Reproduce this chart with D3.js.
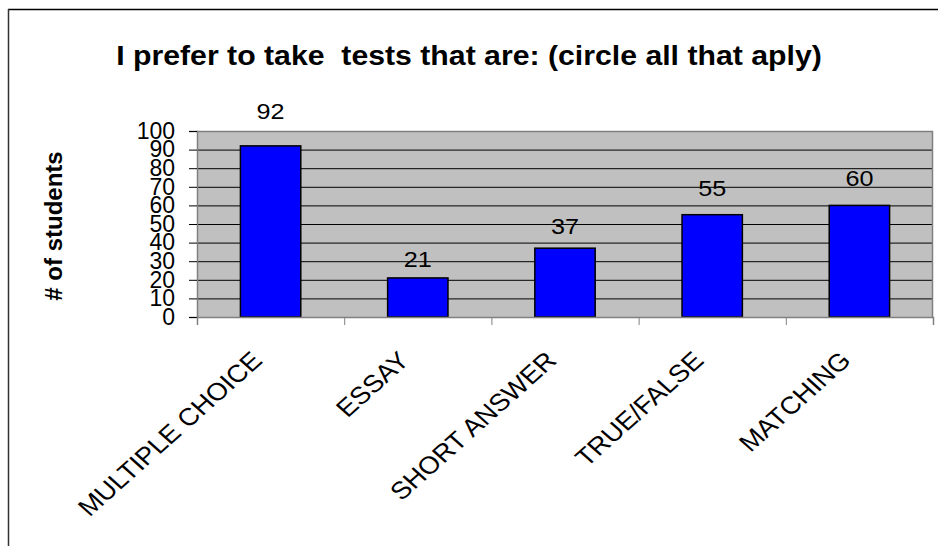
<!DOCTYPE html>
<html>
<head>
<meta charset="utf-8">
<script src="https://cdn.jsdelivr.net/npm/d3@7"></script>
<style>
  html, body { margin: 0; padding: 0; background: #fff; }
  svg { display: block; }
  text { font-family: "Liberation Sans", Arial, sans-serif; fill: #000; }
</style>
</head>
<body>
<script>
// Survey answers: which test formats students prefer
const categories = ["MULTIPLE CHOICE", "ESSAY", "SHORT ANSWER", "TRUE/FALSE", "MATCHING"];
const students = [92, 21, 37, 55, 60];
const yTicks = [0, 10, 20, 30, 40, 50, 60, 70, 80, 90, 100];
const gridTicks = [10, 20, 30, 40, 50, 60, 70, 80, 90];
const titleText = "I prefer to take  tests that are: (circle all that aply)";
const yTitleText = "# of students";

const W = 938, H = 546;
const margin = { left: 197, top: 131, right: 5, bottom: 229 };
const w = W - margin.left - margin.right;
const h = H - margin.top - margin.bottom;
const sx = 1.12; // text is drawn slightly widened

const svg = d3.select("body").append("svg")
  .attr("width", W).attr("height", H);

svg.append("rect").attr("width", W).attr("height", H).attr("fill", "#fff");

// outer frame (top and left edges)
svg.append("line").attr("x1", 8).attr("x2", W).attr("y1", 9.5).attr("y2", 9.5)
  .attr("stroke", "#000").attr("stroke-width", 1.5);
svg.append("line").attr("x1", 8.5).attr("x2", 8.5).attr("y1", 9).attr("y2", H)
  .attr("stroke", "#333").attr("stroke-width", 1.5);

// title
svg.append("g").attr("transform", `translate(469,65) scale(${sx},1)`)
  .append("text")
  .attr("text-anchor", "middle")
  .attr("font-size", 27).attr("font-weight", "bold")
  .style("white-space", "pre")
  .text(titleText);

// y axis title
svg.append("text")
  .attr("transform", "translate(62,226) rotate(-90)")
  .attr("text-anchor", "middle")
  .attr("font-size", 24).attr("font-weight", "bold")
  .text(yTitleText);

const g = svg.append("g").attr("transform", `translate(${margin.left},${margin.top})`);

const x = d3.scaleBand().domain(categories).range([0, w])
  .paddingInner(0.59).paddingOuter(0.295);
const xEdge = d3.scaleLinear().domain([0, categories.length]).range([0, w]);
const y = d3.scaleLinear().domain([0, 100]).range([h, 0]);
const labelY = d3.scaleLinear().domain([0, 100]).range([y(0) - 6, y(100) - 29]);

// plot background
g.append("rect").attr("width", w).attr("height", h).attr("fill", "#c0c0c0");

// gridlines
g.append("g")
  .call(d3.axisLeft(y).tickValues(gridTicks).tickSize(-w).tickFormat(""))
  .call(s => s.select(".domain").remove())
  .call(s => s.selectAll("line").attr("stroke", "#000").attr("stroke-width", 1));

// plot border (top, right)
g.append("path")
  .attr("d", `M0,0.5H${w - 0.5}V${h}`)
  .attr("fill", "none").attr("stroke", "#808080").attr("stroke-width", 1.5);

// bars
g.selectAll("rect.bar").data(students).join("rect")
  .attr("class", "bar")
  .attr("x", (d, i) => x(categories[i]))
  .attr("width", x.bandwidth())
  .attr("y", d => y(d))
  .attr("height", d => y(0) - y(d))
  .attr("fill", "#0000ff")
  .attr("stroke", "#000").attr("stroke-width", 1.5);

// y axis
const yAxis = g.append("g")
  .call(d3.axisLeft(y).tickValues(yTicks).tickSize(8).tickPadding(14));
yAxis.select(".domain").attr("stroke", "#808080").attr("stroke-width", 1.5);
yAxis.selectAll(".tick line").attr("stroke", "#000");
yAxis.selectAll(".tick text")
  .attr("font-size", 23)
  .attr("font-family", "'Liberation Sans', Arial, sans-serif")
  .attr("fill", "#000");

// x axis (ticks between categories)
const xAxis = g.append("g").attr("transform", `translate(0,${h})`)
  .call(d3.axisBottom(xEdge).ticks(categories.length).tickSize(8).tickFormat(""));
xAxis.select(".domain").attr("stroke", "#808080").attr("stroke-width", 1.5);
xAxis.selectAll(".tick line").attr("stroke", "#808080");

// category labels, slanted
g.selectAll("g.cat").data(categories).join("g")
  .attr("class", "cat")
  .attr("transform", d => `translate(${x(d) + x.bandwidth() / 2 - 7},${h + 45}) scale(${sx},1) rotate(-45)`)
  .append("text")
  .attr("text-anchor", "end")
  .attr("font-size", 24.5)
  .text(d => d);

// value labels
g.selectAll("g.val").data(students).join("g")
  .attr("class", "val")
  .attr("transform", (d, i) => `translate(${x(categories[i]) + x.bandwidth() / 2},${labelY(d)}) scale(${sx},1)`)
  .append("text")
  .attr("text-anchor", "middle")
  .attr("font-size", 22.5)
  .text(d => d);
</script>
</body>
</html>
